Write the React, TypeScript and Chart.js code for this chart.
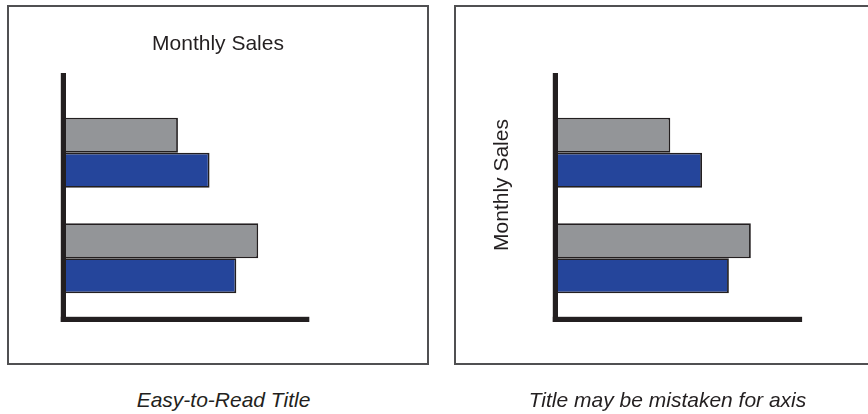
import React, { useEffect, useRef } from "react";
import { Chart, registerables } from "chart.js";

Chart.register(...registerables);

// ---- data ----
const categories = ["Period 1", "Period 2"];
const seriesNames = ["Previous", "Current"];
const grayValues = [46, 79];
const blueValues = [59, 70];
const scaleMax = 127;
const axisLineEnd = 100;
const chartTitle = "Monthly Sales";
const captions = ["Easy-to-Read Title", "Title may be mistaken for axis"];

const INK = "#231f20";
const GRAY = "#939598";
const BLUE = "#25459b";
const FONT = "'Liberation Sans', Arial, Helvetica, sans-serif";

const lAxisPlugin = {
  id: "lAxis",
  afterDatasetsDraw(chart: any) {
    const { ctx, chartArea: a, scales } = chart;
    const x = scales.x;
    const w = 5.2;
    const left = a.left - w;
    ctx.save();
    ctx.fillStyle = INK;
    ctx.fillRect(left, a.top - 27, w, a.bottom + 11 - (a.top - 27));
    ctx.fillRect(left, a.bottom + 5.8, x.getPixelForValue(axisLineEnd) - left, w);
    ctx.restore();
  },
};

function datasets() {
  const common = {
    borderColor: INK,
    borderWidth: 1.8,
    categoryPercentage: 0.663,
    barPercentage: 1,
  };
  return [
    { label: seriesNames[0], data: grayValues, backgroundColor: GRAY, ...common },
    { label: seriesNames[1], data: blueValues, backgroundColor: BLUE, ...common },
  ];
}

function makeConfig(variant: "top" | "left"): any {
  const titleFont = { family: FONT, size: 21, weight: "normal" as const, lineHeight: 1.2 };
  const hiddenAxis = {
    display: true,
    ticks: { display: false },
    grid: { display: false },
    border: { display: false },
  };
  const isTop = variant === "top";
  return {
    type: "bar",
    data: { labels: categories, datasets: datasets() },
    plugins: [lAxisPlugin],
    options: {
      indexAxis: "y",
      animation: false,
      responsive: false,
      devicePixelRatio: 1,
      layout: isTop
        ? { padding: { left: 54, right: 54, top: 0, bottom: 54 } }
        : { padding: { left: 0, right: 0, top: 54, bottom: 54 } },
      plugins: {
        legend: { display: false },
        tooltip: { enabled: false },
        title: {
          display: true,
          text: chartTitle,
          position: isTop ? "top" : "left",
          color: INK,
          font: titleFont,
          padding: isTop ? { top: 26.6, bottom: 43.2 } : { top: 35.2, bottom: 43.6 },
        },
      },
      scales: {
        x: isTop
          ? { type: "linear", min: 0, max: scaleMax, display: false }
          : {
              type: "linear",
              min: 0,
              max: scaleMax,
              position: "top",
              ...hiddenAxis,
              afterFit: (s: any) => {
                s.height = 41;
              },
            },
        y: isTop
          ? {
              type: "category",
              ...hiddenAxis,
              afterFit: (s: any) => {
                s.width = 5;
              },
            }
          : { type: "category", display: false },
      },
    },
  };
}

function Panel(props: { variant: "top" | "left"; left: number; width: number; boxWidth: number }) {
  const ref = useRef<HTMLCanvasElement | null>(null);
  useEffect(() => {
    if (!ref.current) return;
    const chart = new Chart(ref.current, makeConfig(props.variant));
    return () => chart.destroy();
  }, [props.variant]);
  const top = 5;
  const height = 360;
  return (
    <>
      <canvas
        ref={ref}
        width={props.width}
        height={height}
        style={{ position: "absolute", left: props.left, top, width: props.width, height }}
      />
      <div
        style={{
          position: "absolute",
          left: props.left,
          top,
          width: props.boxWidth,
          height,
          boxSizing: "border-box",
          border: "2px solid #505052",
          pointerEvents: "none",
        }}
      />
    </>
  );
}

const captionStyle: React.CSSProperties = {
  position: "absolute",
  top: 389,
  fontFamily: FONT,
  fontStyle: "italic",
  fontSize: 21,
  lineHeight: "21px",
  color: INK,
  textAlign: "center",
  whiteSpace: "pre",
};

export default function App() {
  return (
    <div
      style={{
        position: "fixed",
        left: 0,
        top: 0,
        width: 868,
        height: 414,
        background: "#ffffff",
        overflow: "hidden",
      }}
    >
      <Panel variant="top" left={7} width={422} boxWidth={422} />
      <Panel variant="left" left={454} width={414} boxWidth={430} />
      <div style={{ ...captionStyle, left: 0, width: 447 }}>{captions[0]}</div>
      <div style={{ ...captionStyle, left: 467, width: 401 }}>{captions[1]}</div>
    </div>
  );
}
